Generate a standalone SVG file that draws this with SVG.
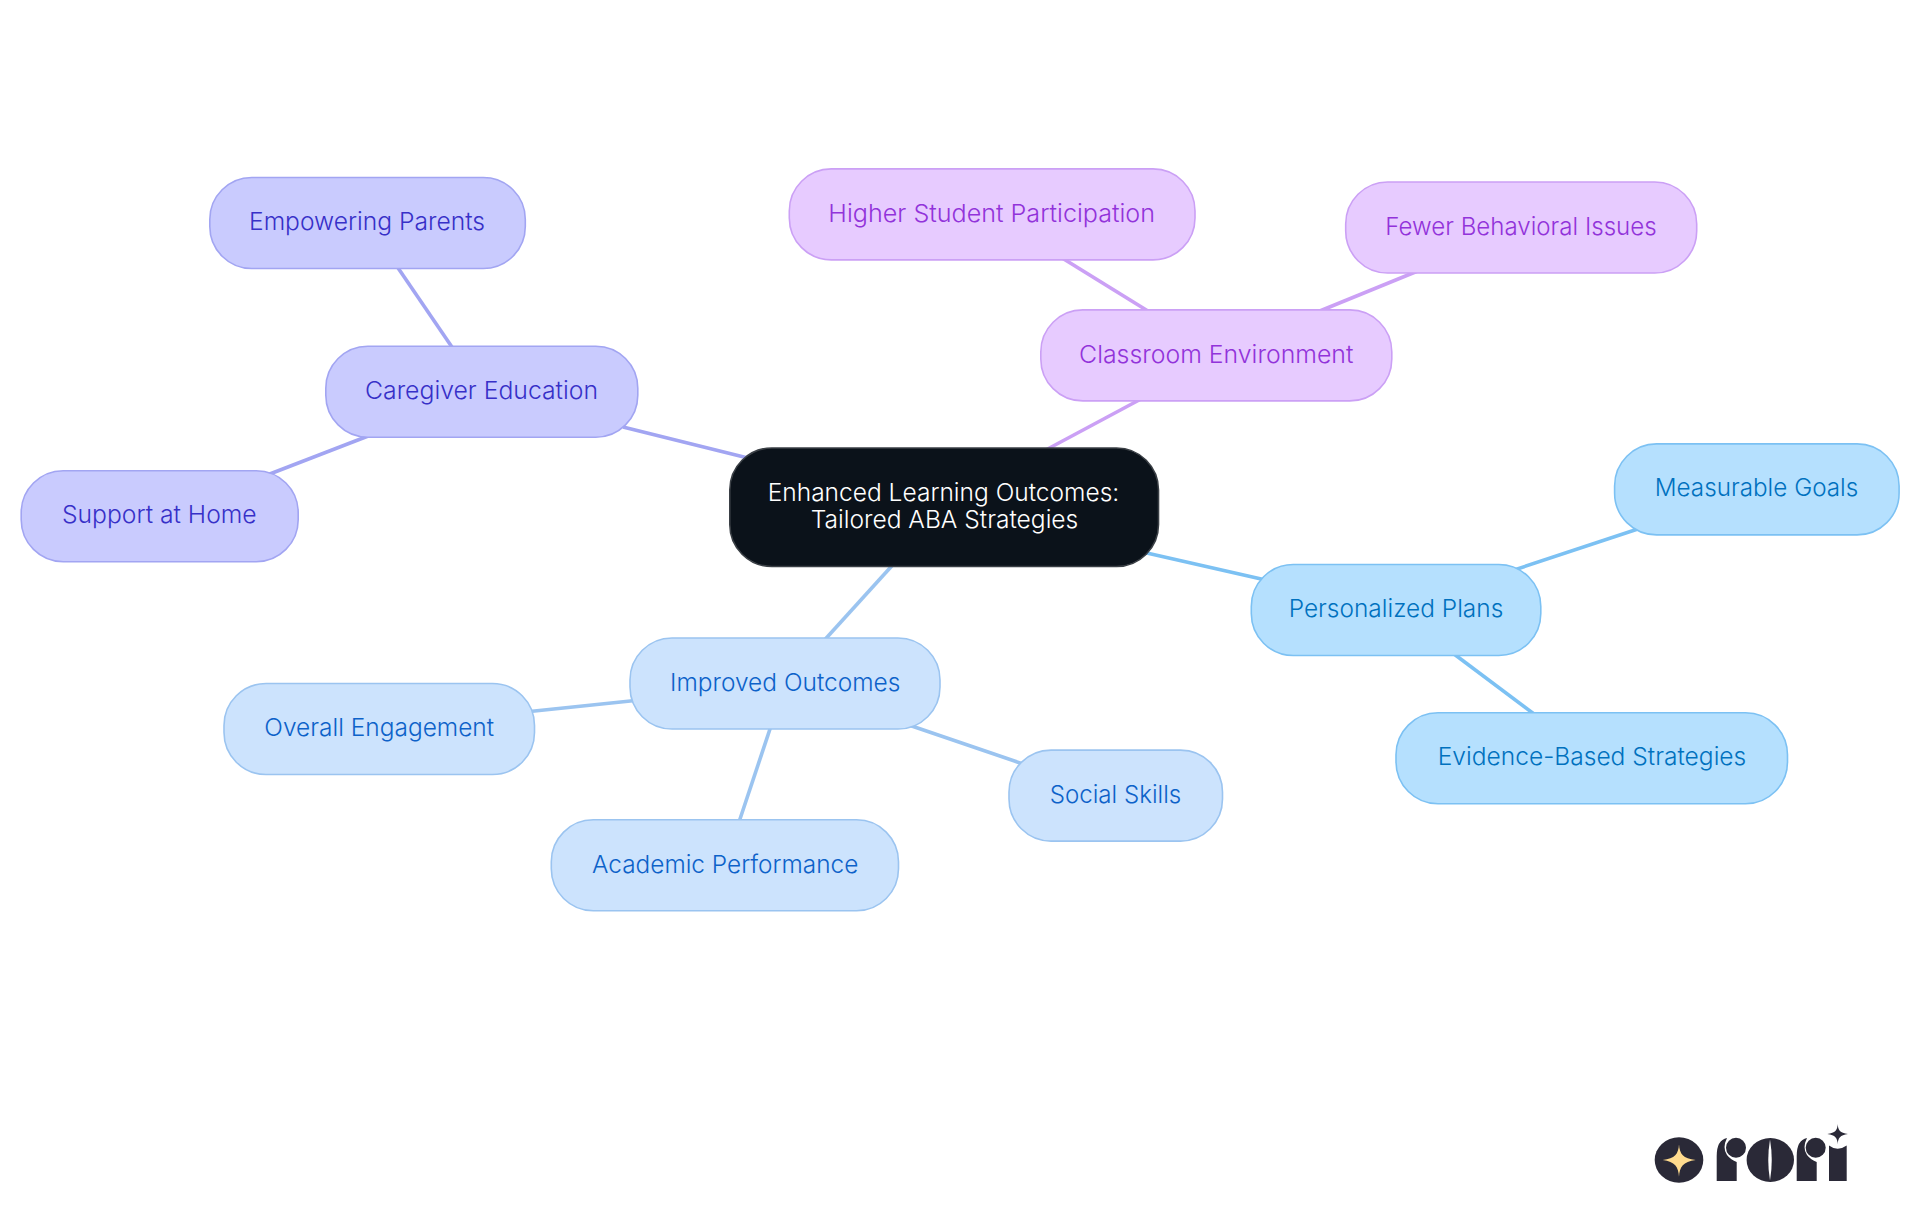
<svg xmlns="http://www.w3.org/2000/svg" width="1920" height="1215" viewBox="0 0 1920 1215">
<style>
text{font-family:"Inter","Noto Sans","Liberation Sans",sans-serif;font-size:24.5px;font-weight:350;text-anchor:middle}
rect{stroke-width:1.6}
#connectors line{stroke-width:3.6;fill:none}
.c-sky{stroke:#7CC1F3}.c-blue{stroke:#9BC4F0}.c-ind{stroke:#A2A5F2}.c-pur{stroke:#CBA0F5}
.sky rect{fill:#B5E0FE;stroke:#7CC1F3}.sky text{fill:#0071BE}
.blue rect{fill:#CCE3FD;stroke:#9BC4F0}.blue text{fill:#0D62C9}
.ind rect{fill:#C9CBFE;stroke:#A2A5F2}.ind text{fill:#3730C8}
.pur rect{fill:#E7CBFF;stroke:#CBA0F5}.pur text{fill:#9233DA}
.logo{fill:#2A2937}
</style>
<rect x="0" y="0" width="1920" height="1215" fill="#ffffff" style="stroke:none"/>
<g id="connectors">
<line class="c-ind" x1="623" y1="427" x2="760" y2="461"/>
<line class="c-pur" x1="1042" y1="452" x2="1141" y2="399"/>
<line class="c-blue" x1="899" y1="558" x2="820" y2="645"/>
<line class="c-sky" x1="1138" y1="551" x2="1270" y2="581"/>
<line class="c-ind" x1="394" y1="262" x2="456" y2="353"/>
<line class="c-ind" x1="376" y1="433" x2="262" y2="477"/>
<line class="c-pur" x1="1054" y1="253" x2="1156" y2="316"/>
<line class="c-pur" x1="1430" y1="266" x2="1310" y2="315"/>
<line class="c-sky" x1="1505" y1="573" x2="1650" y2="525"/>
<line class="c-sky" x1="1446" y1="648" x2="1542" y2="720"/>
<line class="c-blue" x1="525" y1="712" x2="640" y2="700"/>
<line class="c-blue" x1="773" y1="720" x2="737" y2="828"/>
<line class="c-blue" x1="900" y1="722" x2="1032" y2="767"/>
</g>
<g id="node-root"><rect x="729.8" y="448" width="428.7" height="118.5" rx="42" fill="#0B121A" style="stroke:#3A3F45"/>
<text x="943.5" y="501" fill="#ffffff" textLength="351.6" lengthAdjust="spacingAndGlyphs">Enhanced Learning Outcomes:</text>
<text x="944.5" y="527.7" fill="#ffffff" textLength="267.6" lengthAdjust="spacingAndGlyphs">Tailored ABA Strategies</text></g>
<g id="node-caregiver" class="ind"><rect x="325.8" y="346.2" width="312" height="91" rx="42"/><text x="481.5" y="399" textLength="233" lengthAdjust="spacingAndGlyphs">Caregiver Education</text></g>
<g id="node-empowering" class="ind"><rect x="209.8" y="177.5" width="315.5" height="91" rx="42"/><text x="367" y="230" textLength="236" lengthAdjust="spacingAndGlyphs">Empowering Parents</text></g>
<g id="node-support" class="ind"><rect x="21.2" y="470.7" width="277" height="91" rx="42"/><text x="159.3" y="522.7" textLength="194.7" lengthAdjust="spacingAndGlyphs">Support at Home</text></g>
<g id="node-classroom" class="pur"><rect x="1040.8" y="309.9" width="351" height="91" rx="42"/><text x="1216.2" y="362.7" textLength="274.3" lengthAdjust="spacingAndGlyphs">Classroom Environment</text></g>
<g id="node-higher" class="pur"><rect x="789.3" y="168.9" width="405.7" height="91" rx="42"/><text x="991.7" y="222" textLength="326.7" lengthAdjust="spacingAndGlyphs">Higher Student Participation</text></g>
<g id="node-fewer" class="pur"><rect x="1345.7" y="182" width="351" height="91" rx="42"/><text x="1521" y="235" textLength="271.4" lengthAdjust="spacingAndGlyphs">Fewer Behavioral Issues</text></g>
<g id="node-personalized" class="sky"><rect x="1251.3" y="564.5" width="289.5" height="91" rx="42"/><text x="1396" y="617" textLength="214.6" lengthAdjust="spacingAndGlyphs">Personalized Plans</text></g>
<g id="node-measurable" class="sky"><rect x="1614.6" y="443.9" width="284.5" height="91" rx="42"/><text x="1756.5" y="496" textLength="203.6" lengthAdjust="spacingAndGlyphs">Measurable Goals</text></g>
<g id="node-evidence" class="sky"><rect x="1396" y="712.8" width="391.5" height="91" rx="42"/><text x="1592" y="765" textLength="308.6" lengthAdjust="spacingAndGlyphs">Evidence-Based Strategies</text></g>
<g id="node-improved" class="blue"><rect x="630" y="638" width="310" height="91" rx="42"/><text x="785.2" y="691" textLength="230.3" lengthAdjust="spacingAndGlyphs">Improved Outcomes</text></g>
<g id="node-overall" class="blue"><rect x="224" y="683.5" width="310.5" height="91" rx="42"/><text x="379.2" y="736" textLength="229.7" lengthAdjust="spacingAndGlyphs">Overall Engagement</text></g>
<g id="node-academic" class="blue"><rect x="551.3" y="819.8" width="347.2" height="91" rx="42"/><text x="725.2" y="873" textLength="266.3" lengthAdjust="spacingAndGlyphs">Academic Performance</text></g>
<g id="node-social" class="blue"><rect x="1009" y="750.1" width="213.5" height="91" rx="42"/><text x="1115.5" y="802.7" textLength="131.6" lengthAdjust="spacingAndGlyphs">Social Skills</text></g>
<g id="logo">
<ellipse class="logo" cx="1679" cy="1160" rx="24.3" ry="22.8"/>
<path fill="#FFDB8E" d="M1679 1144.3C1679.6 1154 1683 1158.7 1695.7 1160C1683 1161.5 1679.6 1167 1679 1176.7C1678.4 1167 1675 1161.5 1662.7 1160C1675 1158.7 1678.4 1154 1679 1144.3Z"/>
<path class="logo" d="M1716.7 1181V1156Q1716.7 1140 1727 1138Q1722 1148 1727 1155Q1731 1160 1736.7 1162V1181Z"/>
<circle class="logo" cx="1736" cy="1147.7" r="10"/>
<ellipse class="logo" cx="1770.3" cy="1160" rx="23.7" ry="22"/>
<path fill="#ffffff" d="M1770 1139.5Q1766.5 1160 1770 1180.5Q1773.5 1160 1770 1139.5Z"/>
<path class="logo" d="M1796.7 1181V1156Q1796.7 1140 1807 1138Q1802 1148 1807 1155Q1811 1160 1816.7 1162V1181Z"/>
<circle class="logo" cx="1815.7" cy="1147.7" r="10"/>
<path class="logo" d="M1829 1181V1145.5Q1837.5 1152 1846.7 1145.5V1181Z"/>
<path class="logo" d="M1837.7 1124C1838 1130 1840 1133 1848 1134C1840 1135 1838 1138 1837.7 1144.3C1837.4 1138 1835.4 1135 1827.3 1134C1835.4 1133 1837.4 1130 1837.7 1124Z"/>
</g>
</svg>
